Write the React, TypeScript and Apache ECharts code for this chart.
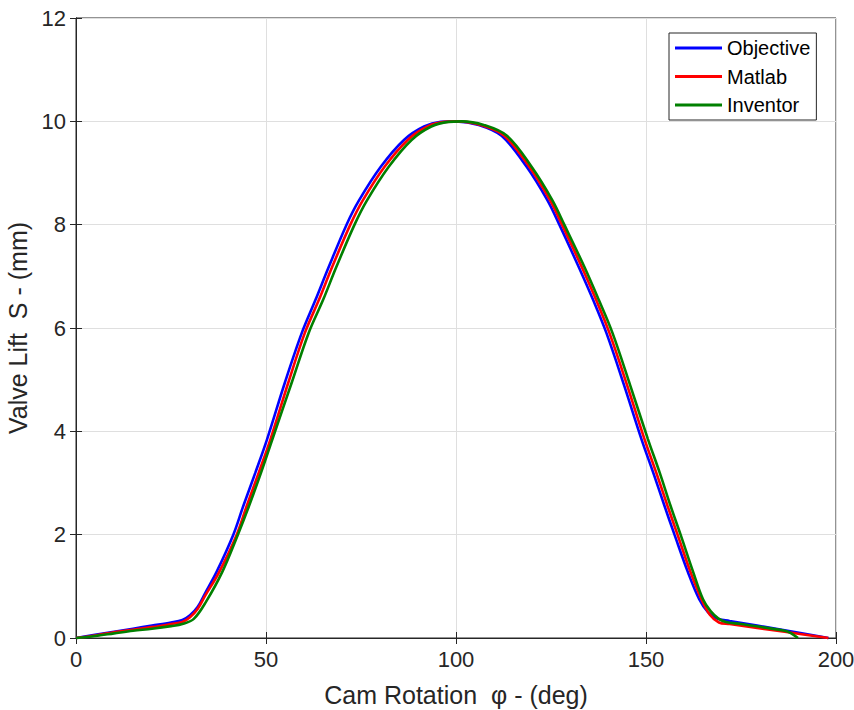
import React, { useEffect, useRef } from "react";
import * as echarts from "echarts";

// Cam rotation angle (deg) and valve lift (mm) for each profile
const objectiveDeg = [0, 5, 10, 15, 20, 25, 28, 30, 32, 34, 37, 41.4, 44, 47.2, 50.3, 55, 59.4, 63, 66.5, 71.2, 74.4, 80.2, 86.3, 91.6, 96, 100, 106, 112, 118.5, 124, 127.2, 132.3, 136.1, 139.6, 144.2, 148.8, 151.9, 154.9, 157.5, 161, 164, 166.3, 168.5, 172, 186.5, 198];
const objectiveLift = [0, 0.06, 0.12, 0.18, 0.24, 0.3, 0.35, 0.44, 0.6, 0.87, 1.28, 2.0, 2.55, 3.2, 3.85, 4.95, 5.9, 6.54, 7.18, 8.0, 8.46, 9.12, 9.64, 9.9, 9.99, 10, 9.93, 9.72, 9.13, 8.48, 8.0, 7.18, 6.54, 5.9, 4.9, 3.85, 3.2, 2.55, 2.0, 1.28, 0.75, 0.5, 0.38, 0.33, 0.15, 0];

const matlabDeg = [0, 5, 10, 15, 20, 25, 28, 30, 32, 34, 37.5, 42.3, 44.9, 48.1, 51.2, 55.9, 60.2, 63.9, 67.4, 72.2, 75.4, 81.2, 87.3, 92.5, 97, 100.5, 106.5, 112.7, 119.2, 124.7, 127.9, 133.1, 136.9, 140.4, 145, 149.6, 152.7, 155.7, 158.3, 161.7, 164.6, 166.8, 169.2, 172, 186.5, 198];
const matlabLift = [0, 0.05, 0.11, 0.16, 0.21, 0.27, 0.31, 0.4, 0.56, 0.82, 1.25, 2.0, 2.55, 3.2, 3.85, 4.95, 5.9, 6.54, 7.18, 8.0, 8.46, 9.12, 9.64, 9.9, 9.99, 10, 9.93, 9.72, 9.13, 8.48, 8.0, 7.18, 6.54, 5.9, 4.9, 3.85, 3.2, 2.55, 2.0, 1.28, 0.75, 0.45, 0.3, 0.27, 0.12, 0];

const inventorDeg = [0, 5, 10, 15, 20, 25, 28, 31, 34.2, 38.5, 42.6, 45.5, 48.7, 51.7, 56.8, 61.2, 65, 68.5, 73.3, 76.5, 82.3, 88.3, 93.5, 98, 101.5, 107.3, 113.4, 119.8, 125.3, 128.5, 133.8, 137.6, 141.2, 145.8, 150.5, 153.6, 156.5, 159.1, 162.4, 165, 167, 169, 171, 175, 186.5, 188, 190];
const inventorLift = [0, 0.04, 0.09, 0.14, 0.18, 0.23, 0.27, 0.37, 0.7, 1.28, 2.0, 2.55, 3.2, 3.85, 4.95, 5.9, 6.54, 7.18, 8.0, 8.46, 9.12, 9.64, 9.9, 9.99, 10, 9.93, 9.72, 9.13, 8.48, 8.0, 7.18, 6.54, 5.9, 4.9, 3.85, 3.2, 2.55, 2.0, 1.28, 0.75, 0.52, 0.38, 0.31, 0.27, 0.14, 0.1, 0];

const seriesNames = ["Objective", "Matlab", "Inventor"];
const seriesColors = ["#0000ff", "#ff0000", "#008000"];

const xTicks = { min: 0, max: 200, interval: 50 };
const yTicks = { min: 0, max: 12, interval: 2 };

const FONT = "Arial, 'Liberation Sans', Helvetica, sans-serif";
const INK = "#262626";

function pairs(xs: number[], ys: number[]) {
  return xs.map((x, i) => [x, ys[i]]);
}

export default function App() {
  const ref = useRef<HTMLDivElement>(null);

  useEffect(() => {
    if (!ref.current) return;
    const chart = echarts.init(ref.current, undefined, { renderer: "svg" });

    const datasets = [
      pairs(objectiveDeg, objectiveLift),
      pairs(matlabDeg, matlabLift),
      pairs(inventorDeg, inventorLift),
    ];

    const tickStyle = { inside: true, length: 6, lineStyle: { color: INK, width: 1 } };

    chart.setOption({
      animation: false,
      backgroundColor: "#ffffff",
      grid: {
        left: 76,
        right: 18,
        top: 18,
        bottom: 72,
        outerBoundsMode: "none",
        show: true,
        borderColor: INK,
        borderWidth: 1,
      },
      legend: {
        orient: "vertical",
        left: 669,
        top: 33,
        padding: [4, 6, 4, 6],
        itemGap: 6.5,
        itemWidth: 47,
        itemHeight: 3,
        icon: "rect",
        backgroundColor: "#ffffff",
        borderColor: INK,
        borderWidth: 1,
        borderRadius: 0,
        data: seriesNames,
        textStyle: { fontFamily: FONT, fontSize: 20, color: "#000", lineHeight: 22, padding: [0, 0, 0, 0] },
      },
      xAxis: [
        {
          type: "value",
          ...xTicks,
          position: "bottom",
          name: "Cam Rotation  φ - (deg)",
          nameLocation: "middle",
          nameGap: 44,
          nameTextStyle: { fontFamily: FONT, fontSize: 25, color: INK },
          axisLine: { show: true, lineStyle: { color: INK, width: 1 } },
          axisTick: tickStyle,
          axisLabel: { fontFamily: FONT, fontSize: 22, color: INK, margin: 10 },
          splitLine: { show: true, lineStyle: { color: "#dfdfdf", width: 1 } },
        },
        {
          type: "value",
          ...xTicks,
          position: "top",
          axisLine: { show: true, lineStyle: { color: INK, width: 1 } },
          axisTick: tickStyle,
          axisLabel: { show: false },
          splitLine: { show: false },
        },
      ],
      yAxis: [
        {
          type: "value",
          ...yTicks,
          position: "left",
          name: "Valve Lift  S - (mm)",
          nameLocation: "middle",
          nameGap: 30,
          nameTextStyle: { fontFamily: FONT, fontSize: 25, color: INK },
          axisLine: { show: true, lineStyle: { color: INK, width: 1 } },
          axisTick: tickStyle,
          axisLabel: { fontFamily: FONT, fontSize: 22, color: INK, margin: 10 },
          splitLine: { show: true, lineStyle: { color: "#dfdfdf", width: 1 } },
        },
        {
          type: "value",
          ...yTicks,
          position: "right",
          axisLine: { show: true, lineStyle: { color: INK, width: 1 } },
          axisTick: tickStyle,
          axisLabel: { show: false },
          splitLine: { show: false },
        },
      ],
      series: datasets.map((data, i) => ({
        name: seriesNames[i],
        type: "line",
        xAxisIndex: 0,
        yAxisIndex: 0,
        data,
        showSymbol: false,
        smooth: 0.35,
        clip: false,
        lineStyle: { color: seriesColors[i], width: 2.6 },
        itemStyle: { color: seriesColors[i] },
        z: 2 + i,
      })),
    });

    return () => chart.dispose();
  }, []);

  return (
    <div
      ref={ref}
      style={{ position: "absolute", left: 0, top: 0, width: 854, height: 710 }}
    />
  );
}
